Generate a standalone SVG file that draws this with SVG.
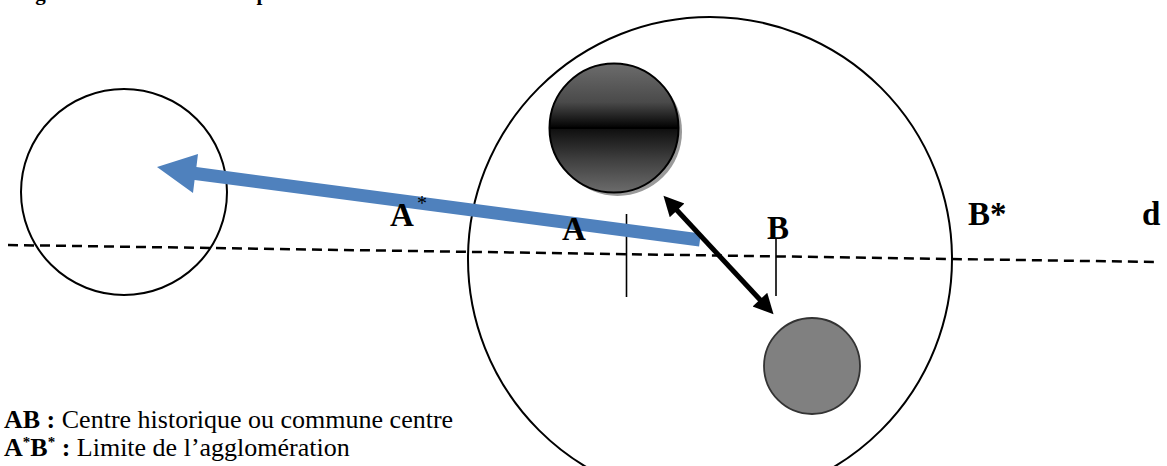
<svg xmlns="http://www.w3.org/2000/svg" width="1167" height="466" viewBox="0 0 1167 466">
  <style>
    .ring { fill: none; stroke: #000; stroke-width: 2; }
    .tick { stroke: #000; stroke-width: 1.6; }
    .lbl { font-family: "Liberation Serif", "Times New Roman", serif; font-weight: bold; font-size: 33px; fill: #000; }
    .leg { font-family: "Liberation Serif", "Times New Roman", serif; font-size: 26px; fill: #000; }
    .b { font-weight: bold; }
    .cap { font-family: "Liberation Serif", "Times New Roman", serif; font-weight: bold; font-size: 21px; fill: #000; }
  </style>
  <defs>
    <linearGradient id="darkGrad" x1="0" y1="0" x2="0" y2="1">
      <stop offset="0" stop-color="#6c6c6c"/>
      <stop offset="0.3" stop-color="#4a4a4a"/>
      <stop offset="0.49" stop-color="#050505"/>
      <stop offset="0.51" stop-color="#101010"/>
      <stop offset="0.75" stop-color="#404040"/>
      <stop offset="1" stop-color="#6c6c6c"/>
    </linearGradient>
    <marker id="blackHead" viewBox="0 0 10 10" markerUnits="userSpaceOnUse" markerWidth="24" markerHeight="20" refX="3" refY="5" orient="auto-start-reverse">
      <path d="M0,0 L10,5 L0,10 z" fill="#000"/>
    </marker>
  </defs>

  <rect width="1167" height="466" fill="#fff"/>

  <text class="cap" x="12" y="0" textLength="570" lengthAdjust="spacing">Figure 1 : Schéma du processus d’étalement urbain</text>

  <!-- axis line d -->
  <line x1="8" y1="245" x2="1155" y2="262" stroke="#000" stroke-width="2.5" stroke-dasharray="10 6"/>

  <g id="node-peripheral">
    <circle class="ring" cx="124" cy="192" r="103"/>
  </g>

  <g id="node-agglomeration">
    <circle class="ring" cx="710" cy="259" r="242"/>
  </g>

  <g id="node-center-dark">
    <circle cx="617.5" cy="131.5" r="64.5" fill="#9a9a9a"/>
    <circle cx="614" cy="128" r="64.5" fill="url(#darkGrad)" stroke="#000" stroke-width="2"/>
    <line x1="550" y1="128" x2="678" y2="128" stroke="#000" stroke-width="2"/>
  </g>

  <g id="node-center-grey">
    <circle cx="812" cy="366" r="48" fill="#808080" stroke="#333" stroke-width="1.8"/>
  </g>

  <g id="ticks">
    <line class="tick" x1="626.5" y1="214" x2="626.5" y2="297"/>
    <line class="tick" x1="776" y1="238" x2="776" y2="296"/>
  </g>

  <g id="connectors">
    <polygon points="700.9,233.6 196.4,167.1 198,154 157,167 193,193 194.6,179.9 699.1,246.4" fill="#4f81bd"/>
    <line x1="673" y1="206" x2="764" y2="304" stroke="#000" stroke-width="5" marker-start="url(#blackHead)" marker-end="url(#blackHead)"/>
  </g>

  <g id="labels">
    <text class="lbl" x="390" y="226">A</text>
    <text x="417" y="210" font-family="Liberation Serif, serif" font-size="20" fill="#000">*</text>
    <text class="lbl" x="562" y="240">A</text>
    <text class="lbl" x="767" y="239">B</text>
    <text class="lbl" x="968" y="225">B*</text>
    <text class="lbl" x="1142" y="225">d</text>
  </g>

  <g id="legend">
    <text class="leg" x="4" y="428"><tspan class="b">AB :</tspan> Centre historique ou commune centre</text>
    <text class="leg" x="4" y="456"><tspan class="b">A</tspan><tspan class="b" font-size="15" dy="-9">*</tspan><tspan class="b" dy="9">B</tspan><tspan class="b" font-size="15" dy="-9">*</tspan><tspan class="b" dy="9"> :</tspan> Limite de l’agglomération</text>
  </g>
</svg>
